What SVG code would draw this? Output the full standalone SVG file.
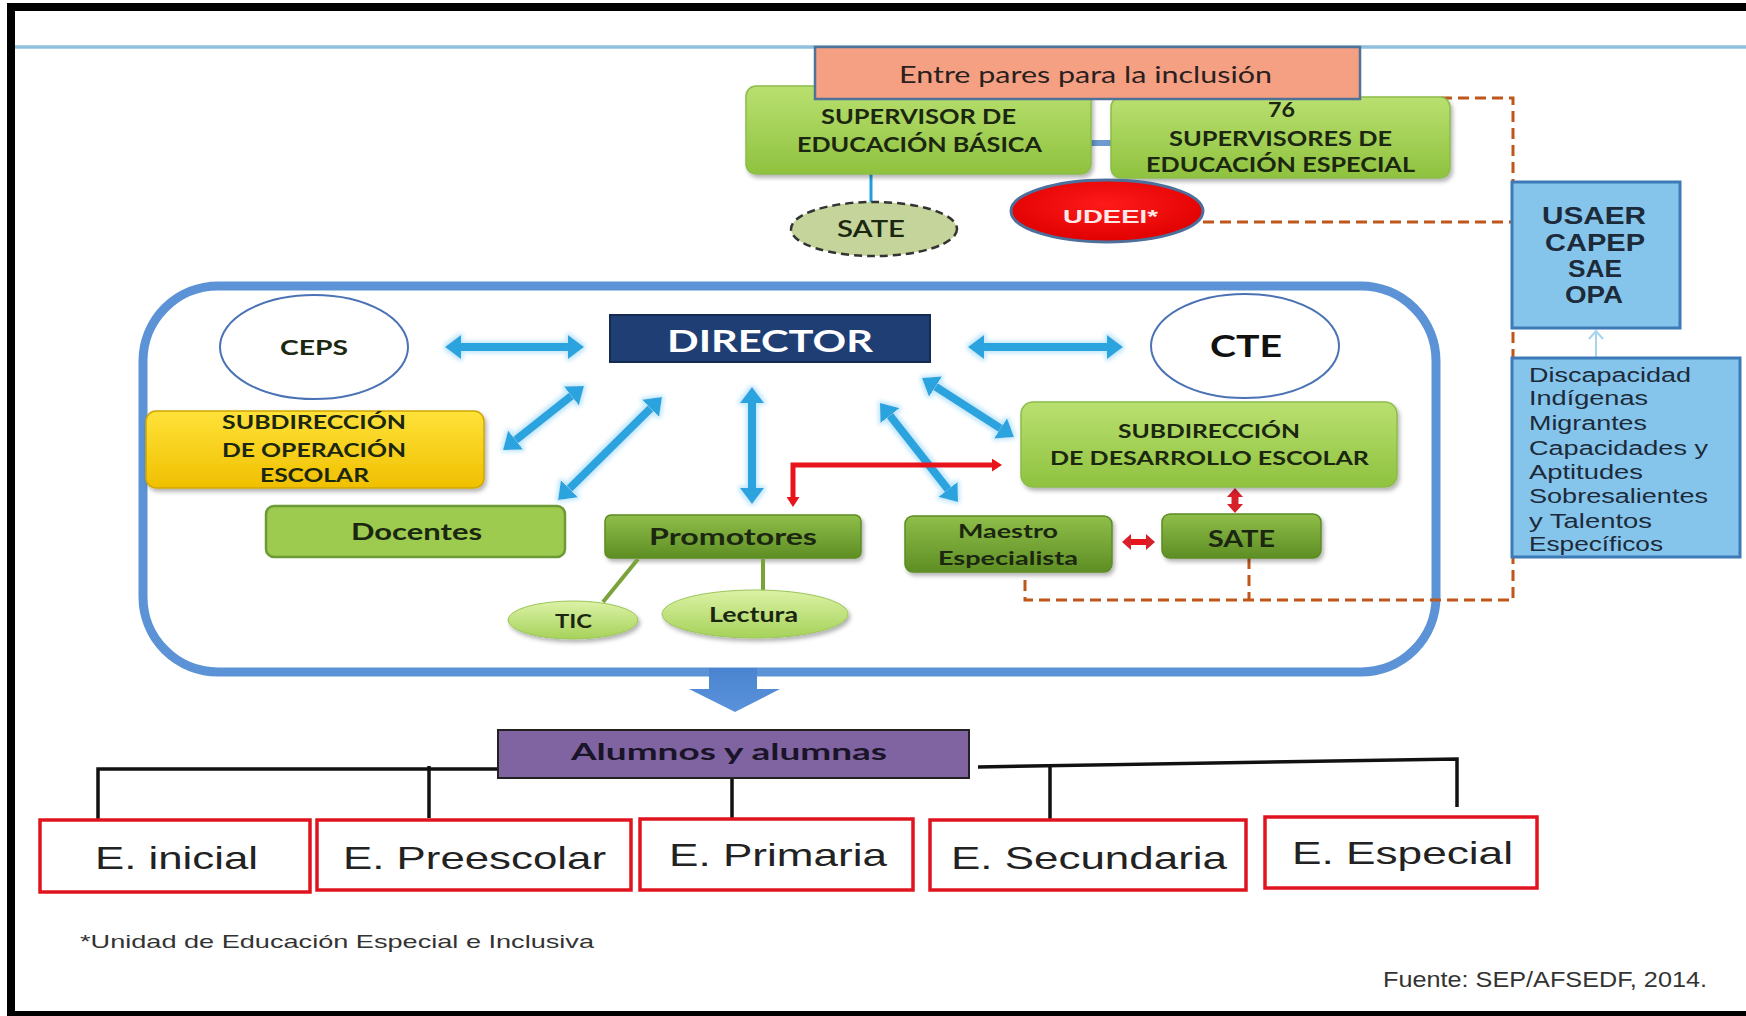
<svg xmlns="http://www.w3.org/2000/svg" width="1746" height="1016" viewBox="0 0 1746 1016">
<style>
.cb{font-family:Lato,"Open Sans","Liberation Sans",sans-serif;font-weight:700;fill:#1b2710}
.cr{font-family:Lato,"Open Sans","Liberation Sans",sans-serif;font-weight:400;fill:#2a2020}
.ar{font-family:"Liberation Sans",Arial,sans-serif;fill:#222}
.arb{font-family:"Liberation Sans",Arial,sans-serif;font-weight:700;fill:#1c2a3a}
.lg{fill:url(#gLight);stroke:#8cbc4a;stroke-width:1.5;filter:url(#shadow)}
.dg{fill:url(#gDark);stroke:#5d8c24;stroke-width:1.5;filter:url(#shadow)}
.ed{fill:#fff;stroke:#e0141e;stroke-width:3.5}
.blue{fill:#86c5eb;stroke:#3c7ab8;stroke-width:3}
.ba{fill:none;stroke:#2aa3df;stroke-width:8;marker-start:url(#bh);marker-end:url(#bh)}
.od{fill:none;stroke:#c0571a;stroke-width:3;stroke-dasharray:11 6}
.tree{fill:none;stroke:#111;stroke-width:3.5}
</style>
<defs>
<linearGradient id="gLight" x1="0" y1="0" x2="0" y2="1"><stop offset="0" stop-color="#b9e070"/><stop offset="1" stop-color="#8fc23f"/></linearGradient>
<linearGradient id="gDark" x1="0" y1="0" x2="0" y2="1"><stop offset="0" stop-color="#8fbe4a"/><stop offset="1" stop-color="#5e8e24"/></linearGradient>
<linearGradient id="gYellow" x1="0" y1="0" x2="0" y2="1"><stop offset="0" stop-color="#ffe23a"/><stop offset="1" stop-color="#f0c000"/></linearGradient>
<linearGradient id="gEll" x1="0" y1="0" x2="0" y2="1"><stop offset="0" stop-color="#dcf2a6"/><stop offset="1" stop-color="#a6d25a"/></linearGradient>
<radialGradient id="gRed" cx="0.5" cy="0.4" r="0.6"><stop offset="0" stop-color="#ff1a1a"/><stop offset="1" stop-color="#e00000"/></radialGradient>
<linearGradient id="gArrow" x1="0" y1="0" x2="0" y2="1"><stop offset="0" stop-color="#4a84d0"/><stop offset="1" stop-color="#5a92da"/></linearGradient>
<filter id="shadow" x="-10%" y="-20%" width="125%" height="150%"><feDropShadow dx="2" dy="3" stdDeviation="2" flood-color="#000" flood-opacity="0.3"/></filter>
<filter id="glow" x="-20%" y="-20%" width="140%" height="140%">
<feMorphology in="SourceAlpha" operator="dilate" radius="2" result="d"/>
<feGaussianBlur in="d" stdDeviation="2" result="b"/>
<feFlood flood-color="#bfe7fb"/>
<feComposite in2="b" operator="in" result="g"/>
<feMerge><feMergeNode in="g"/><feMergeNode in="SourceGraphic"/></feMerge>
</filter>
<marker id="bh" markerUnits="userSpaceOnUse" markerWidth="16" markerHeight="24" viewBox="0 0 16 24" refX="0" refY="12" orient="auto-start-reverse"><path d="M0,0 L16,12 L0,24 z" fill="#2aa3df"/></marker>
<marker id="rh" markerUnits="userSpaceOnUse" markerWidth="10" markerHeight="13" viewBox="0 0 10 13" refX="0" refY="6.5" orient="auto-start-reverse"><path d="M0,0 L10,6.5 L0,13 z" fill="#e8141b"/></marker>
<marker id="rh2" markerUnits="userSpaceOnUse" markerWidth="9" markerHeight="16" viewBox="0 0 9 16" refX="0" refY="8" orient="auto-start-reverse"><path d="M0,0 L9,8 L0,16 z" fill="#d8202a"/></marker>
</defs>

<rect x="0" y="0" width="1746" height="1016" fill="#fff"/>
<!-- frame -->
<rect x="7" y="3" width="1739" height="8" fill="#000"/>
<rect x="7" y="3" width="8" height="1013" fill="#000"/>
<rect x="7" y="1011" width="1739" height="5" fill="#000"/>
<line x1="15" y1="47" x2="1746" y2="47" stroke="#8ec0dc" stroke-width="3.5"/>

<!-- container -->
<rect x="143" y="286" width="1293" height="386" rx="75" ry="75" fill="none" stroke="#5b93d6" stroke-width="9"/>

<!-- connectors -->
<g id="connectors">
<line x1="871" y1="174" x2="871" y2="203" stroke="#1ea0e0" stroke-width="3"/>
<line x1="1071" y1="143" x2="1116" y2="143" stroke="#6b9bd1" stroke-width="6"/>
<path class="od" d="M1441,98 H1513 V600 H1025 V574"/>
<path class="od" d="M1249,558 V600"/>
<path class="od" d="M1203,222 H1513"/>
<line x1="1596" y1="358" x2="1596" y2="331" stroke="#a5d4f0" stroke-width="2"/>
<polyline points="1589,339 1596,331 1603,339" fill="none" stroke="#a5d4f0" stroke-width="2"/>
<g filter="url(#glow)">
<path class="ba" d="M461,347 H568"/>
<path class="ba" d="M984,347 H1107"/>
<path class="ba" d="M571.4,395.9 L515.6,440.1"/>
<path class="ba" d="M650.6,408.3 L569.4,488.7"/>
<path class="ba" d="M752,403 V488"/>
<path class="ba" d="M889.9,415.6 L948.1,489.4"/>
<path class="ba" d="M935.5,386.6 L1000.5,428.4"/>
</g>
<path d="M793,497 V465 H992" fill="none" stroke="#e8141b" stroke-width="5" marker-start="url(#rh)" marker-end="url(#rh)"/>
<path d="M1235,497 V504" fill="none" stroke="#d8202a" stroke-width="7" marker-start="url(#rh2)" marker-end="url(#rh2)"/>
<path d="M1131,542 H1146" fill="none" stroke="#e8141b" stroke-width="6" marker-start="url(#rh2)" marker-end="url(#rh2)"/>
<path d="M709,668 H757 V689 H780 L735,712 L689,689 H709 Z" fill="url(#gArrow)"/>
<path class="tree" d="M497,769 H98 V820"/>
<path class="tree" d="M429,766 V818"/>
<path class="tree" d="M732,778 V820"/>
<path class="tree" d="M978,767 L1457,759 V807"/>
<path class="tree" d="M1050,766 V820"/>
</g>

<!-- top -->
<g id="supervisor-basica">
<rect class="lg" x="746" y="86" width="345" height="88" rx="10"/>
<text class="cb" x="821" y="124" font-size="21" textLength="195" lengthAdjust="spacingAndGlyphs">SUPERVISOR DE</text>
<text class="cb" x="797" y="152" font-size="21" textLength="245" lengthAdjust="spacingAndGlyphs">EDUCACIÓN BÁSICA</text>
</g>
<g id="supervisores-especial">
<rect class="lg" x="1111" y="97" width="339" height="81" rx="10"/>
<text class="cb" x="1268" y="117" font-size="21" textLength="27" lengthAdjust="spacingAndGlyphs">76</text>
<text class="cb" x="1169" y="146" font-size="21" textLength="223" lengthAdjust="spacingAndGlyphs">SUPERVISORES DE</text>
<text class="cb" x="1146" y="172" font-size="21" textLength="269" lengthAdjust="spacingAndGlyphs">EDUCACIÓN ESPECIAL</text>
</g>
<g id="entre-pares">
<rect x="815" y="47" width="545" height="52" fill="#f5a082" stroke="#4f7297" stroke-width="2.5"/>
<text class="cr" x="899" y="83" font-size="22.5" textLength="373" lengthAdjust="spacingAndGlyphs">Entre pares para la inclusión</text>
</g>
<g id="sate-top">
<ellipse cx="874" cy="229" rx="83" ry="27" fill="#c4d49a" stroke="#333" stroke-width="2.5" stroke-dasharray="8 5"/>
<text class="cb" x="837" y="237" font-size="22" textLength="68" lengthAdjust="spacingAndGlyphs" style="font-weight:600">SATE</text>
</g>
<g id="udeei">
<ellipse cx="1107" cy="211" rx="96" ry="31" fill="url(#gRed)" stroke="#4d6f9c" stroke-width="3"/>
<text class="arb" x="1063" y="223" font-size="19" textLength="95" lengthAdjust="spacingAndGlyphs" style="fill:#ffe8e8">UDEEI*</text>
</g>
<g id="usaer">
<rect class="blue" x="1512" y="182" width="168" height="146"/>
<text class="arb" x="1542" y="224" font-size="23" textLength="104" lengthAdjust="spacingAndGlyphs">USAER</text>
<text class="arb" x="1545" y="251" font-size="23" textLength="100" lengthAdjust="spacingAndGlyphs">CAPEP</text>
<text class="arb" x="1568" y="277" font-size="23" textLength="54" lengthAdjust="spacingAndGlyphs">SAE</text>
<text class="arb" x="1565" y="303" font-size="23" textLength="58" lengthAdjust="spacingAndGlyphs">OPA</text>
</g>
<g id="poblaciones">
<rect class="blue" x="1512" y="358" width="228" height="199"/>
<g class="ar" font-size="19.5" style="fill:#1c2a3a">
<text x="1529" y="382" textLength="162" lengthAdjust="spacingAndGlyphs">Discapacidad</text>
<text x="1529" y="405" textLength="119" lengthAdjust="spacingAndGlyphs">Indígenas</text>
<text x="1529" y="430" textLength="118" lengthAdjust="spacingAndGlyphs">Migrantes</text>
<text x="1529" y="455" textLength="179" lengthAdjust="spacingAndGlyphs">Capacidades y</text>
<text x="1529" y="479" textLength="114" lengthAdjust="spacingAndGlyphs">Aptitudes</text>
<text x="1529" y="503" textLength="179" lengthAdjust="spacingAndGlyphs">Sobresalientes</text>
<text x="1529" y="528" textLength="123" lengthAdjust="spacingAndGlyphs">y Talentos</text>
<text x="1529" y="551" textLength="134" lengthAdjust="spacingAndGlyphs">Específicos</text>
</g>
</g>

<!-- inside container -->
<g id="ceps">
<ellipse cx="314" cy="347" rx="94" ry="52" fill="#fff" stroke="#4a72b4" stroke-width="2"/>
<text class="cb" x="280" y="355" font-size="20" textLength="68" lengthAdjust="spacingAndGlyphs">CEPS</text>
</g>
<g id="director">
<rect x="610" y="315" width="320" height="47" fill="#1f3e74" stroke="#142a52" stroke-width="2"/>
<text class="cb" x="667" y="352" font-size="31" textLength="206" lengthAdjust="spacingAndGlyphs" style="fill:#fff">DIRECTOR</text>
</g>
<g id="cte">
<ellipse cx="1245" cy="346" rx="94" ry="52" fill="#fff" stroke="#4a72b4" stroke-width="2"/>
<text class="cb" x="1210" y="357" font-size="30" textLength="72" lengthAdjust="spacingAndGlyphs" style="fill:#111">CTE</text>
</g>
<g id="subdir-operacion">
<rect x="146" y="411" width="338" height="77" rx="10" fill="url(#gYellow)" stroke="#d0a600" stroke-width="1.5" filter="url(#shadow)"/>
<text class="cb" x="222" y="429" font-size="19" textLength="184" lengthAdjust="spacingAndGlyphs">SUBDIRECCIÓN</text>
<text class="cb" x="222" y="457" font-size="19" textLength="184" lengthAdjust="spacingAndGlyphs">DE OPERACIÓN</text>
<text class="cb" x="260" y="482" font-size="19" textLength="109" lengthAdjust="spacingAndGlyphs">ESCOLAR</text>
</g>
<g id="docentes">
<rect x="266" y="506" width="299" height="51" rx="8" fill="#9ccb4f" stroke="#6d9a37" stroke-width="2.5"/>
<text class="cb" x="351" y="540" font-size="22.5" textLength="131" lengthAdjust="spacingAndGlyphs">Docentes</text>
</g>
<g id="promotores">
<rect class="dg" x="605" y="515" width="256" height="43" rx="6"/>
<text class="cb" x="649" y="545" font-size="22.5" textLength="168" lengthAdjust="spacingAndGlyphs">Promotores</text>
</g>
<g id="tic">
<line x1="638" y1="559" x2="603" y2="602" stroke="#7aa33a" stroke-width="4"/>
<ellipse cx="573" cy="620" rx="65" ry="19" fill="url(#gEll)" stroke="#9cc65a" stroke-width="1" filter="url(#shadow)"/>
<text class="cb" x="555" y="628" font-size="19" textLength="37" lengthAdjust="spacingAndGlyphs">TIC</text>
</g>
<g id="lectura">
<line x1="763" y1="559" x2="763" y2="591" stroke="#7aa33a" stroke-width="4"/>
<ellipse cx="755" cy="614" rx="93" ry="24" fill="url(#gEll)" stroke="#9cc65a" stroke-width="1" filter="url(#shadow)"/>
<text class="cb" x="709" y="622" font-size="21" textLength="89" lengthAdjust="spacingAndGlyphs">Lectura</text>
</g>
<g id="subdir-desarrollo">
<rect class="lg" x="1021" y="402" width="376" height="85" rx="12"/>
<text class="cb" x="1118" y="438" font-size="19" textLength="182" lengthAdjust="spacingAndGlyphs">SUBDIRECCIÓN</text>
<text class="cb" x="1050" y="465" font-size="19" textLength="319" lengthAdjust="spacingAndGlyphs">DE DESARROLLO ESCOLAR</text>
</g>
<g id="maestro">
<rect class="dg" x="905" y="516" width="207" height="56" rx="8"/>
<text class="cb" x="958" y="538" font-size="19" textLength="100" lengthAdjust="spacingAndGlyphs">Maestro</text>
<text class="cb" x="938" y="565" font-size="19" textLength="140" lengthAdjust="spacingAndGlyphs">Especialista</text>
</g>
<g id="sate-inner">
<rect class="dg" x="1162" y="514" width="159" height="44" rx="8"/>
<text class="cb" x="1208" y="547" font-size="23.5" textLength="67" lengthAdjust="spacingAndGlyphs">SATE</text>
</g>

<!-- bottom -->
<g id="alumnos">
<rect x="498" y="730" width="471" height="48" fill="#8064a2" stroke="#222" stroke-width="2"/>
<text class="cb" x="571" y="760" font-size="23" textLength="316" lengthAdjust="spacingAndGlyphs" style="fill:#1a1428">Alumnos y alumnas</text>
</g>
<g id="e-inicial">
<rect class="ed" x="40" y="820" width="270" height="72"/>
<text class="ar" x="95" y="869" font-size="32" textLength="163" lengthAdjust="spacingAndGlyphs">E. inicial</text>
</g>
<g id="e-preescolar">
<rect class="ed" x="317" y="820" width="314" height="70"/>
<text class="ar" x="343" y="869" font-size="32" textLength="263" lengthAdjust="spacingAndGlyphs">E. Preescolar</text>
</g>
<g id="e-primaria">
<rect class="ed" x="640" y="819" width="273" height="71"/>
<text class="ar" x="669" y="866" font-size="32" textLength="218" lengthAdjust="spacingAndGlyphs">E. Primaria</text>
</g>
<g id="e-secundaria">
<rect class="ed" x="930" y="820" width="316" height="70"/>
<text class="ar" x="951" y="869" font-size="32" textLength="276" lengthAdjust="spacingAndGlyphs">E. Secundaria</text>
</g>
<g id="e-especial">
<rect class="ed" x="1265" y="817" width="272" height="71"/>
<text class="ar" x="1292" y="864" font-size="32" textLength="221" lengthAdjust="spacingAndGlyphs">E. Especial</text>
</g>
<text class="ar" x="80" y="948" font-size="18.5" textLength="514" lengthAdjust="spacingAndGlyphs" style="fill:#333">*Unidad de Educación Especial e Inclusiva</text>
<text class="ar" x="1383" y="987" font-size="22" textLength="324" lengthAdjust="spacingAndGlyphs" style="fill:#333">Fuente: SEP/AFSEDF, 2014.</text>
</svg>
